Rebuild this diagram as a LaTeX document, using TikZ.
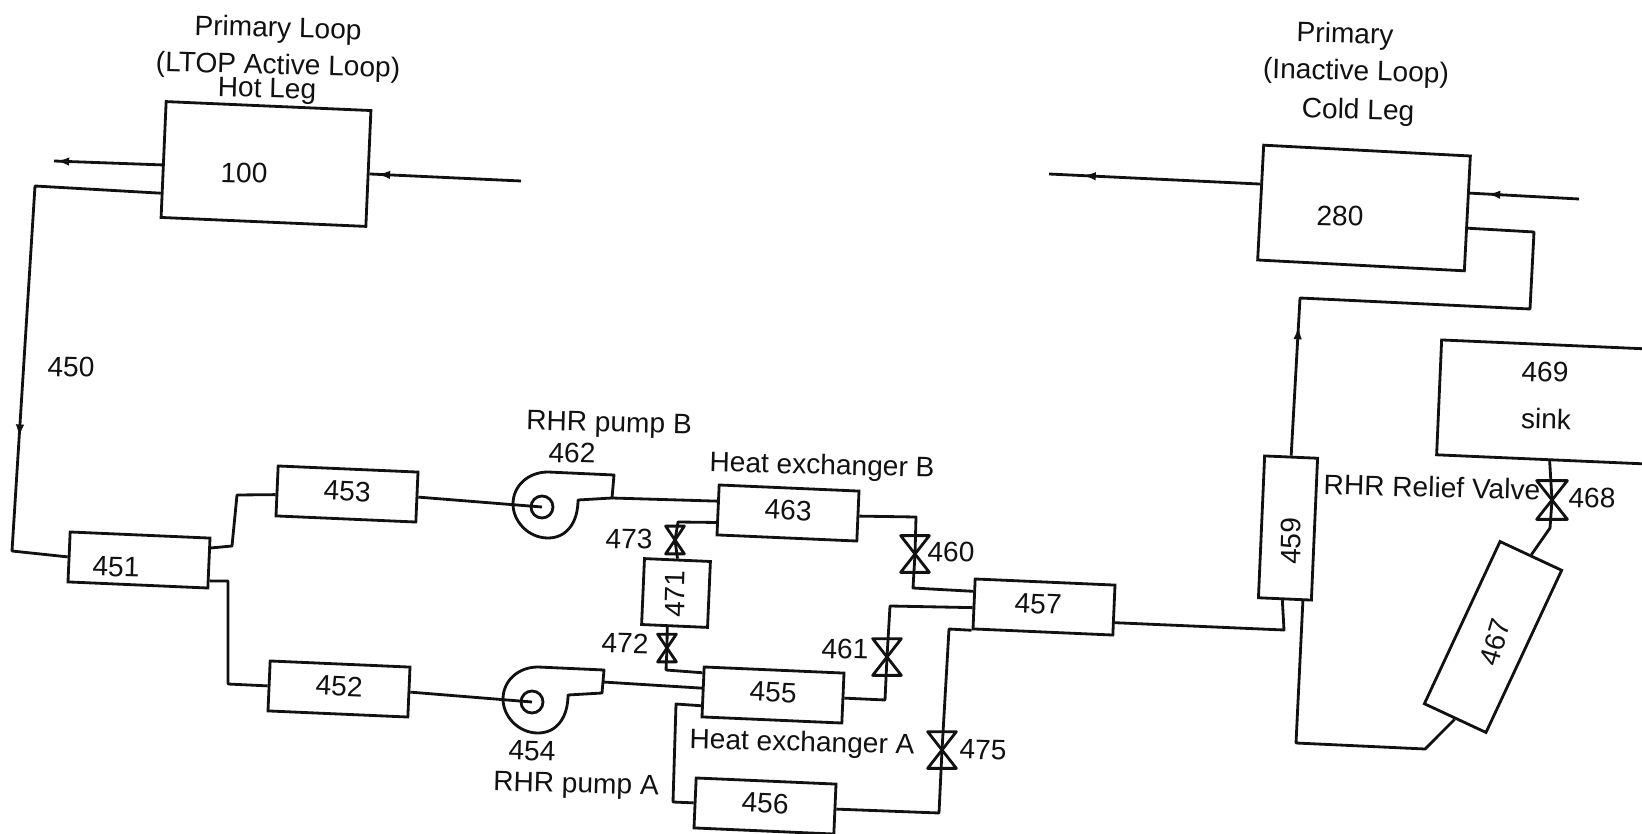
\documentclass[tikz,border=0pt]{standalone}
\usepackage{fontspec}
\setmainfont{Liberation Sans}
\usetikzlibrary{arrows.meta,decorations.markings}
\definecolor{InkBlack}{HTML}{111111}
\tikzset{
  bx/.style={draw=InkBlack,fill=white,line width=1.6pt,inner sep=0pt,align=center,text depth=3.4pt,
    minimum width=2.8cm,minimum height=1cm,rotate=-2.5,font=\fontsize{16}{18}\selectfont,text=InkBlack},
  lbl/.style={inner sep=0pt,rotate=-1.5,font=\fontsize{16}{18}\selectfont,text=InkBlack},
  flow/.style={draw=InkBlack,line width=1.6pt,line join=round},
  midarw/.style={postaction={decorate},decoration={markings,
    mark=at position #1 with {\arrow{Latex[length=2.6mm,width=1.7mm]}}}},
  vbig/.style={inner sep=0pt,minimum width=.56cm,minimum height=.72cm},
  vsml/.style={inner sep=0pt,minimum width=.36cm,minimum height=.54cm},
  hubc/.style={circle,draw=InkBlack,line width=1.6pt,inner sep=0pt,minimum size=.44cm},
  pump/.pic={
    \node[hubc] (-hub) at (0,0) {};
    \coordinate (-out) at (70,-9);
    \coordinate (-mid) at (71,-20);
    \draw[flow] (36,-7) .. controls (36,15) and (25,31) .. (6,31)
      .. controls (-14,31) and (-29,14) .. (-29,-3)
      .. controls (-29,-21) and (-14,-35) .. (6,-35)
      -- (72,-32) -- (-out) -- cycle;
  },
}

\begin{document}
\begin{tikzpicture}[x=.02cm,y=-.02cm]
\useasboundingbox (0,0) rectangle (1642,834);
\fill[white] (0,0) rectangle (1642,834);
\clip (0,0) rectangle (1642,834);

% primary legs
\node[bx,minimum width=4.1cm,minimum height=2.32cm] (n100) at (266,164) {};
\node[bx,minimum width=4.14cm,minimum height=2.3cm,rotate=-.5] (n280) at (1364,208) {};
\node[bx,minimum width=4.24cm,minimum height=2.3cm] (n469) at (1545,402) {};
\node[lbl] (t100) at (244,173) {100};
\node[lbl] (t280) at (1340,216) {280};
\node[lbl] (t469) at (1545,372) {469};
\node[lbl] (tsink) at (1546,419) {sink};

% rhr train
\node[bx] (n451) at (139,560) {};
\node[lbl] (t451) at (116,567) {451};
\node[bx] (n453) at (347,494) {453};
\node[bx] (n452) at (339,689) {452};
\node[bx] (n463) at (788,513) {463};
\node[bx] (n455) at (773,695) {455};
\node[bx] (n456) at (765,806) {456};
\node[bx,minimum width=1.32cm,minimum height=1.32cm] (n471) at (676,593) {};
\node[lbl,rotate=90] (t471) at (675,594) {471};
\node[bx] (n457) at (1044,607) {457\hspace*{.24cm}};
\node[bx,minimum width=1.06cm,minimum height=2.84cm] (n459) at (1288,528) {};
\node[lbl,rotate=90] (t459) at (1291,541) {459};
\node[bx,minimum width=3.58cm,minimum height=1.36cm,rotate=67.5] (n467) at (1493,637) {};
\node[lbl,rotate=75] (t467) at (1495,642) {467};

% pumps
\pic (pb) at (542,507) {pump};
\pic (pa) at (532,702) {pump};

% valves
\node[vbig] (v460) at (915,554) {};
\node[vbig] (v461) at (887,657) {};
\node[vbig] (v475) at (942,750) {};
\node[vbig,minimum width=.6cm,minimum height=.76cm] (v468) at (1552,500) {};
\node[vsml] (v473) at (675,540) {};
\node[vsml] (v472) at (667,648) {};
\foreach \v in {v460,v461,v475,v468,v473,v472}{
  \draw[flow] (\v.north west) -- (\v.north east) -- (\v.south west) -- (\v.south east) -- cycle;}

% free ends
\coordinate (e100a) at (54,161);
\coordinate (e100b) at (521,181);
\coordinate (e280a) at (1049,174);
\coordinate (e280b) at (1579,199);

% primary connectors
\draw[flow,midarw=.98] (n100.183) -- (e100a);
\draw[flow,midarw=.95] (e100b) -- (n100.357);
\draw[flow,midarw=.84] (n280.170) -- (e280a);
\draw[flow,midarw=.84] (e280b) -- (n280.11);
\draw[flow,midarw=.69] (n100.198) -- (35,186) -- (12,551) -- (n451.west);
\draw[flow,midarw=.244] (n459.north) -- (1300,298) -- (1530,309) -- (1534,232) -- (n280.352);

% rhr connectors
\draw[flow] (n451.12) -- (232,546) -- (237,495) -- (n453.183);
\draw[flow] (n451.346) -- (228,581) -- (228,684) -- (n452.west);
\draw[flow] (n453.east) -- (pb-hub.center);
\draw[flow] (n452.east) -- (pa-hub.center);
\draw[flow] (pb-out) -- (n463.173);
\draw[flow] (pa-mid) -- (n455.177);
\draw[flow] (n463.190) -- (678,522) -- (v473.center) -- (n471.north);
\draw[flow] (n471.258) -- (v472.center) -- (666,670) -- (n455.165);
\draw[flow] (n455.191) -- (676,704) -- (673,802) -- (n456.west);
\draw[flow] (n463.east) -- (916,517) -- (v460.center) -- (913,588) -- (n457.170);
\draw[flow] (n455.east) -- (885,700) -- (v461.center) -- (890,606) -- (n457.183);
\draw[flow] (n456.east) -- (939,813) -- (v475.center) -- (949,629) -- (n457.south west);
\draw[flow] (n457.350) -- (1284,630) -- (n459.268);
\draw[flow] (n459.284) -- (1296,743) -- (1425,749) -- (n467.west);
\draw[flow] (n467.east) -- (1550,528) -- (v468.center) -- (n469.277);

% labels
\node[lbl] (l1) at (278,30) {Primary Loop};
\node[lbl] (l2) at (278,67) {(LTOP Active Loop)};
\node[lbl] (l3) at (267,91) {Hot Leg};
\node[lbl] (l4) at (1345,36) {Primary};
\node[lbl] (l5) at (1356,73) {(Inactive Loop)};
\node[lbl] (l6) at (1358,112) {Cold Leg};
\node[lbl] (l7) at (71,367) {450};
\node[lbl] (l8) at (609,425) {RHR pump B};
\node[lbl] (l9) at (572,453) {462};
\node[lbl] (l10) at (822,467) {Heat exchanger B};
\node[lbl] (l11) at (629,539) {473};
\node[lbl] (l12) at (625,643) {472};
\node[lbl] (l13) at (951,552) {460};
\node[lbl] (l14) at (845,649) {461};
\node[lbl] (l15) at (802,744) {Heat exchanger A};
\node[lbl] (l16) at (983,750) {475};
\node[lbl] (l17) at (532,751) {454};
\node[lbl] (l18) at (576,786) {RHR pump A};
\node[lbl] (l19) at (1432,487) {RHR Relief Valve};
\node[lbl] (l20) at (1592,498) {468};
\end{tikzpicture}
\end{document}
